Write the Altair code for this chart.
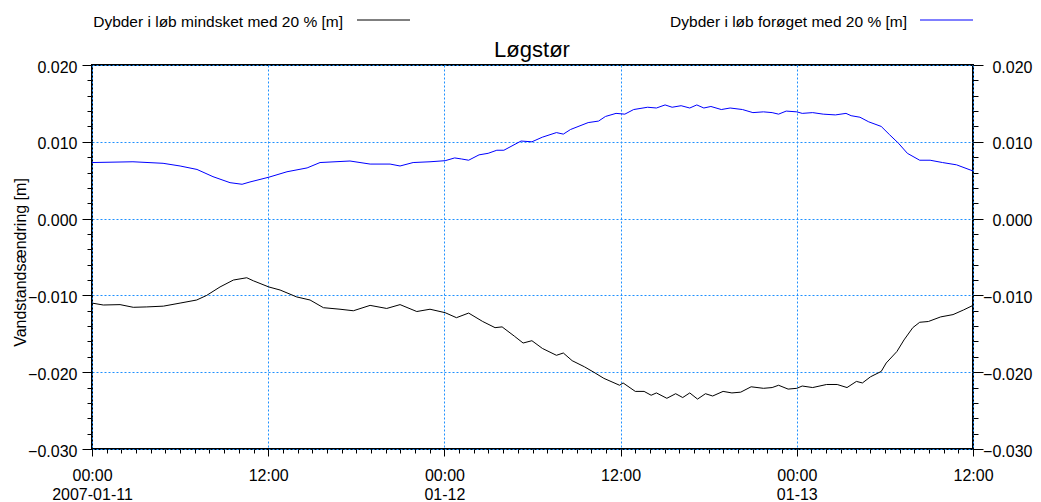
import altair as alt
import pandas as pd

TITLE = "Løgstør"
Y_TITLE = "Vandstandsændring [m]"
LOW_NAME = "Dybder i løb mindsket med 20 % [m]"
HIGH_NAME = "Dybder i løb forøget med 20 % [m]"
START = "2007-01-11T00:00:00"

low_hours = [0, 0.77, 1.91, 2.81, 3.73, 4.86, 6.0, 7.13, 7.81, 8.72,
             9.63, 10.54, 10.99, 12.04, 12.81, 13.94, 14.85, 15.76, 16.89, 17.8,
             18.94, 20.07, 20.98, 22.12, 23.02, 24.05, 24.82, 25.65, 26.61, 27.45,
             27.93, 28.76, 29.36, 29.96, 30.67, 31.63, 32.1, 32.7, 33.54, 34.26,
             34.86, 35.93, 36.17, 37.0, 37.6, 38.08, 38.44, 39.15, 39.75, 40.23,
             40.71, 41.24, 41.78, 42.27, 42.98, 43.58, 44.18, 44.89, 45.73, 46.32,
             46.76, 47.41, 48.0, 48.37, 49.08, 50.03, 50.75, 51.42, 52.06, 52.47,
             53.02, 53.75, 54.09, 54.82, 55.3, 55.9, 56.37, 56.96, 57.8, 58.64,
             59.35, 60.0]
low_values = [-0.0110, -0.01125, -0.0112, -0.01155, -0.0115, -0.0114, -0.0110, -0.0106, -0.0100, -0.0089,
              -0.0080, -0.0077, -0.0081, -0.0089, -0.0093, -0.0102, -0.0106, -0.0116, -0.0118, -0.0120,
              -0.0113, -0.0117, -0.0112, -0.0121, -0.0118, -0.01225, -0.0129, -0.0123, -0.0134, -0.0142,
              -0.0141, -0.0153, -0.0162, -0.0159, -0.0169, -0.0178, -0.0175, -0.0185, -0.0193, -0.0201,
              -0.0208, -0.0217, -0.0214, -0.0225, -0.0225, -0.0230, -0.0227, -0.0234, -0.0228, -0.0233,
              -0.0227, -0.0235, -0.0228, -0.0231, -0.0225, -0.0227, -0.0226, -0.0219, -0.0221, -0.0220,
              -0.0217, -0.0222, -0.0221, -0.0218, -0.0220, -0.0216, -0.0216, -0.0220, -0.0212, -0.0214,
              -0.0206, -0.0199, -0.0188, -0.0173, -0.0158, -0.0142, -0.0135, -0.0134, -0.0128, -0.0125,
              -0.0119, -0.0113]

high_hours = [0, 2.79, 4.84, 6.0, 7.15, 8.24, 9.4, 10.22, 10.76, 12.06,
              13.28, 14.65, 15.53, 17.57, 18.94, 20.3, 20.98, 21.87, 23.02, 24.05,
              24.7, 25.18, 25.65, 26.36, 26.98, 27.57, 28.05, 29.22, 29.96, 30.67,
              31.63, 32.1, 32.59, 33.79, 34.5, 34.97, 35.69, 36.29, 36.89, 37.84,
              38.44, 39.03, 39.51, 40.12, 40.71, 41.19, 41.67, 42.15, 42.86, 43.46,
              44.3, 45.01, 45.73, 46.32, 46.76, 47.28, 48.0, 48.37, 49.08, 49.8,
              50.63, 51.35, 51.7, 52.3, 52.9, 53.75, 54.33, 54.93, 55.53, 56.37,
              57.08, 57.92, 58.88, 60.0]
high_values = [0.0073, 0.0074, 0.0072, 0.00685, 0.0064, 0.00546, 0.00468, 0.00447, 0.00477, 0.0054,
               0.0061, 0.0066, 0.0073, 0.0075, 0.0071, 0.0071, 0.00685, 0.0073, 0.0074, 0.00754,
               0.0079, 0.00776, 0.0076, 0.0083, 0.0085, 0.0089, 0.0089, 0.0101, 0.0100, 0.0106,
               0.0112, 0.0110, 0.0116, 0.0125, 0.0127, 0.0133, 0.0137, 0.0136, 0.0142, 0.0145,
               0.0144, 0.0148, 0.0145, 0.0147, 0.0144, 0.0148, 0.0144, 0.0146, 0.0142, 0.0144,
               0.0142, 0.0138, 0.0139, 0.0138, 0.0136, 0.0140, 0.0139, 0.0137, 0.0138, 0.0136,
               0.0135, 0.0137, 0.0134, 0.0132, 0.0126, 0.0120, 0.0109, 0.0098, 0.0085, 0.0076,
               0.0076, 0.0073, 0.0070, 0.0062]

y_major = [-0.03, -0.02, -0.01, 0.0, 0.01, 0.02]
y_minor = [round(-0.03 + 0.002 * i, 3) for i in range(26)]
x_major_hours = [0, 12, 24, 36, 48, 60]
x_minor_hours = list(range(0, 61))

FONT = "Liberation Sans"
GRID = "#1e90ff"
HOUR = 3_600_000
t0 = int(pd.Timestamp(START, tz="UTC").value // 10**6)


def ms(h):
    return t0 + int(round(h * HOUR))


df = pd.DataFrame({
    "time": [ms(h) for h in low_hours] + [ms(h) for h in high_hours],
    "value": low_values + high_values,
    "series": [LOW_NAME] * len(low_hours) + [HIGH_NAME] * len(high_hours),
})

x_scale = alt.Scale(type="utc", domain=[ms(0), ms(60)])
y_scale = alt.Scale(domain=[-0.03, 0.02], nice=False, zero=False)

label_expr = ("utchours(datum.value) == 0 ? [utcFormat(datum.value, '%H:%M'), "
              "utcdate(datum.value) == 11 ? utcFormat(datum.value, '%Y-%m-%d') : utcFormat(datum.value, '%m-%d')]"
              " : utcFormat(datum.value, '%H:%M')")

common = dict(domain=False, labelFont=FONT, labelFontSize=16, labelColor="black",
              tickColor="black", tickWidth=1)

x_major_axis = alt.Axis(orient="bottom", values=[ms(h) for h in x_major_hours], labelExpr=label_expr,
                        tickSize=7, labelPadding=11, labelLineHeight=19, labelBaseline="top",
                        labelOverlap=False, labelFlush=False, grid=True, gridColor=GRID,
                        gridDash=[2, 2], gridWidth=1, title=None, **common)
x_minor_axis = alt.Axis(orient="bottom", values=[ms(h) for h in x_minor_hours], labels=False,
                        tickSize=4, grid=False, title=None, domain=False, tickColor="black")

y_left_axis = alt.Axis(orient="left", values=y_major, format=".3f", tickSize=10, labelPadding=5,
                       labelOffset=2, grid=True, gridColor=GRID, gridDash=[2, 2], gridWidth=1,
                       title=Y_TITLE, titleFont=FONT, titleFontSize=16, titleFontWeight="normal",
                       titleColor="black", titleAngle=270, titleX=-67, titleY=197,
                       titleBaseline="alphabetic", titleAlign="center", **common)
y_right_axis = alt.Axis(orient="right", values=y_major, format=".3f", tickSize=10, labelPadding=49,
                        labelAlign="right", labelOffset=2, grid=False, title=None, **common)
y_left_minor = alt.Axis(orient="left", values=y_minor, labels=False, tickSize=5, grid=False,
                        title=None, domain=False, tickColor="black")
y_right_minor = alt.Axis(orient="right", values=y_minor, labels=False, tickSize=5, grid=False,
                         title=None, domain=False, tickColor="black")

base = alt.Chart(df)

low_line = base.transform_filter(alt.datum.series == LOW_NAME).mark_line(
    color="black", strokeWidth=1).encode(
    x=alt.X("time:T", scale=x_scale, axis=x_major_axis),
    y=alt.Y("value:Q", scale=y_scale, axis=y_left_axis),
)
high_line = base.transform_filter(alt.datum.series == HIGH_NAME).mark_line(
    color="#0000ff", strokeWidth=1).encode(
    x=alt.X("time:T", scale=x_scale, axis=x_minor_axis),
    y=alt.Y("value:Q", scale=y_scale, axis=y_right_axis),
)
ghost_left = base.mark_line(opacity=0).encode(
    x=alt.X("time:T", scale=x_scale, axis=None),
    y=alt.Y("value:Q", scale=y_scale, axis=y_left_minor),
    detail="series:N",
)
ghost_right = base.mark_line(opacity=0).encode(
    x=alt.X("time:T", scale=x_scale, axis=None),
    y=alt.Y("value:Q", scale=y_scale, axis=y_right_minor),
    detail="series:N",
)


def legend_entry(name, color, text_right, line_x1, line_x2):
    d = pd.DataFrame({"label": [name]})
    txt = alt.Chart(d).mark_text(align="right", baseline="alphabetic", font=FONT, fontSize=15.5,
                                 color="black").encode(
        text="label:N", x=alt.value(text_right), y=alt.value(-38.5))
    ln = alt.Chart(d).mark_rule(color=color, strokeWidth=1).encode(
        x=alt.value(line_x1), x2=alt.value(line_x2), y=alt.value(-45))
    return [txt, ln]


title_mark = alt.Chart(pd.DataFrame({"t": [TITLE]})).mark_text(
    align="center", baseline="alphabetic", font=FONT, fontSize=22, color="black").encode(
    text="t:N", x=alt.value(440), y=alt.value(-8))

layers = [low_line, high_line, ghost_left, ghost_right, title_mark]
layers += legend_entry(LOW_NAME, "black", 251, 265, 318)
layers += legend_entry(HIGH_NAME, "#0000ff", 815, 828, 881)

chart = alt.layer(*layers).resolve_axis(x="independent", y="independent").properties(
    width=881, height=384,
    autosize=alt.AutoSizeParams(type="none"),
    padding={"left": 84, "top": 57, "right": 60, "bottom": 53},
    background="white",
).configure_view(stroke="black", strokeWidth=2)

chart.save("out.html", embed_options={"renderer": "svg", "actions": False})
